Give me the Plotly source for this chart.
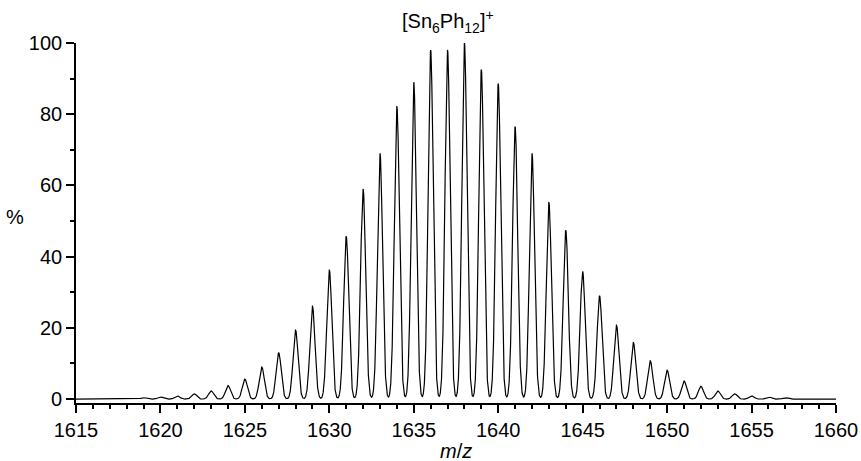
import numpy as np
import plotly.graph_objects as go

# Peak centres (m/z) and relative intensities (%)
mz = [1617, 1618, 1619, 1620, 1621, 1622, 1623, 1624, 1625, 1626, 1627, 1628, 1629,
      1630, 1631, 1632, 1633, 1634, 1635, 1636, 1637, 1638, 1639, 1640, 1641, 1642,
      1643, 1644, 1645, 1646, 1647, 1648, 1649, 1650, 1651, 1652, 1653, 1654, 1655,
      1656, 1657, 1658, 1659]
intensity = [0.1, 0.2, 0.4, 0.6, 0.9, 1.5, 2.3, 3.8, 5.6, 9.0, 13.0, 19.4, 26.1,
             36.3, 45.7, 59.0, 69.0, 82.2, 89.0, 98.0, 98.0, 100.0, 92.5, 88.6, 76.5, 69.0,
             55.3, 47.4, 35.8, 29.0, 20.8, 15.9, 10.8, 8.1, 5.1, 3.6, 2.3, 1.5, 0.9,
             0.6, 0.4, 0.2, 0.1]

x_ticks = [1615, 1620, 1625, 1630, 1635, 1640, 1645, 1650, 1655, 1660]
y_ticks = [0, 20, 40, 60, 80, 100]

peak_sigma = 0.15  # instrument peak width (style)

x = np.linspace(1615, 1660, 9001)
y = np.zeros_like(x)
for m, h in zip(mz, intensity):
    y += h * np.exp(-0.5 * ((x - m) / peak_sigma) ** 2)

fig = go.Figure()
fig.add_trace(go.Scatter(x=x, y=y, mode="lines",
                         line=dict(color="black", width=1.2), hoverinfo="skip"))

FS = 20
font = dict(family="Liberation Sans, Arial, sans-serif", size=FS, color="black")

fig.update_layout(
    width=861, height=461,
    margin=dict(l=76, r=25, t=43, b=58, autoexpand=False),
    paper_bgcolor="white", plot_bgcolor="white",
    showlegend=False,
    font=font,
)
fig.update_xaxes(
    range=[1615, 1660], tickvals=x_ticks, ticks="outside", ticklen=8, tickwidth=1.6,
    tickcolor="black", showline=True, linecolor="black", linewidth=1.6,
    showgrid=False, zeroline=False, automargin=False,
    minor=dict(dtick=1, ticks="outside", ticklen=4, tickwidth=1.6, tickcolor="black", showgrid=False),
    tickfont=dict(size=FS),
)
fig.update_yaxes(
    range=[-1.1, 100], tickvals=y_ticks, ticks="outside", ticklen=8, tickwidth=1.6,
    tickcolor="black", showline=True, linecolor="black", linewidth=1.6,
    showgrid=False, zeroline=False, automargin=False,
    minor=dict(dtick=10, ticks="outside", ticklen=4, tickwidth=1.6, tickcolor="black", showgrid=False),
    tickfont=dict(size=FS),
)
fig.add_annotation(text="%", xref="paper", yref="paper", x=-0.0803, y=0.517,
                   showarrow=False, font=dict(size=FS), xanchor="center", yanchor="middle")
fig.add_annotation(text="<i>m</i>/<i>z</i>", xref="paper", yref="paper", x=0.5, y=-0.132,
                   showarrow=False, font=dict(size=FS), xanchor="center", yanchor="middle")
fig.add_annotation(text="[Sn<sub>6</sub>Ph<sub>12</sub>]<sup>+</sup>", xref="paper", yref="paper",
                   x=0.489, y=1.0, yshift=22, showarrow=False, font=dict(size=FS),
                   xanchor="center", yanchor="middle")

fig.write_html("out.html", config={"displayModeBar": False},
               post_script="document.body.style.margin='0';")
